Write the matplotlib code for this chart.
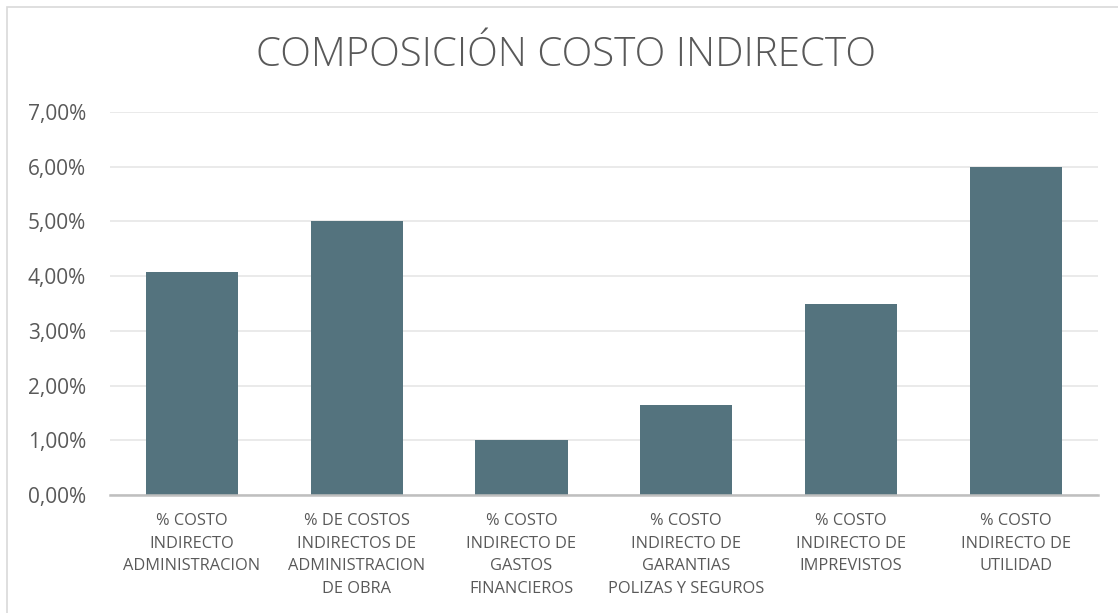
import matplotlib
matplotlib.use('Agg')
import matplotlib.pyplot as plt
from matplotlib.patches import Rectangle
from matplotlib.ticker import FuncFormatter

categories = [
    '% COSTO\nINDIRECTO\nADMINISTRACION',
    '% DE COSTOS\nINDIRECTOS DE\nADMINISTRACION\nDE OBRA',
    '% COSTO\nINDIRECTO DE\nGASTOS\nFINANCIEROS',
    '% COSTO\nINDIRECTO DE\nGARANTIAS\nPOLIZAS Y SEGUROS',
    '% COSTO\nINDIRECTO DE\nIMPREVISTOS',
    '% COSTO\nINDIRECTO DE\nUTILIDAD',
]
values = [0.0408, 0.0500, 0.0100, 0.0165, 0.0350, 0.0600]
yticks = [0.0, 0.01, 0.02, 0.03, 0.04, 0.05, 0.06, 0.07]
title = 'COMPOSICIÓN COSTO INDIRECTO'

text_color = '#595959'
bar_color = '#54737e'

plt.rcParams['font.family'] = ['Open Sans', 'DejaVu Sans']

W, H = 1118, 613
fig = plt.figure(figsize=(W / 100, H / 100), dpi=100)

# chart border (left/top visible only)
fig.patches.append(Rectangle((7 / W, -0.1), 1.2, (613 - 7) / H + 0.1, transform=fig.transFigure,
                             fill=False, edgecolor='#d9d9d9', linewidth=1.2))

ax = fig.add_axes([109.6 / W, (613 - 495) / H, (1098 - 109.6) / W, (495 - 112) / H])
x = range(len(categories))
ax.bar(x, values, width=0.56, color=bar_color, zorder=2)
ax.set_xlim(-0.5, len(categories) - 0.5)
ax.set_ylim(0, 0.07)
ax.set_yticks(yticks)
ax.yaxis.set_major_formatter(FuncFormatter(lambda v, p: f'{v * 100:.2f}%'.replace('.', ',')))
ax.set_xticks(list(x))
ax.set_xticklabels(categories, fontsize=11.8, color=text_color, linespacing=1.55)
ax.tick_params(axis='y', labelsize=15, colors=text_color, length=0, pad=17)
ax.tick_params(axis='x', length=0, pad=13)
ax.grid(axis='y', color='#e6e6e6', linewidth=1.2, zorder=0)
for s in ['top', 'right', 'left']:
    ax.spines[s].set_visible(False)
ax.spines['bottom'].set_color('#bfbfbf')
ax.spines['bottom'].set_linewidth(1.8)
ax.spines['bottom'].set_zorder(3)

fig.text(565.5 / W, (613 - 55) / H, title, ha='center', va='center', fontsize=29,
         color=text_color, fontweight='light')

fig.savefig('out.png', dpi=100)
